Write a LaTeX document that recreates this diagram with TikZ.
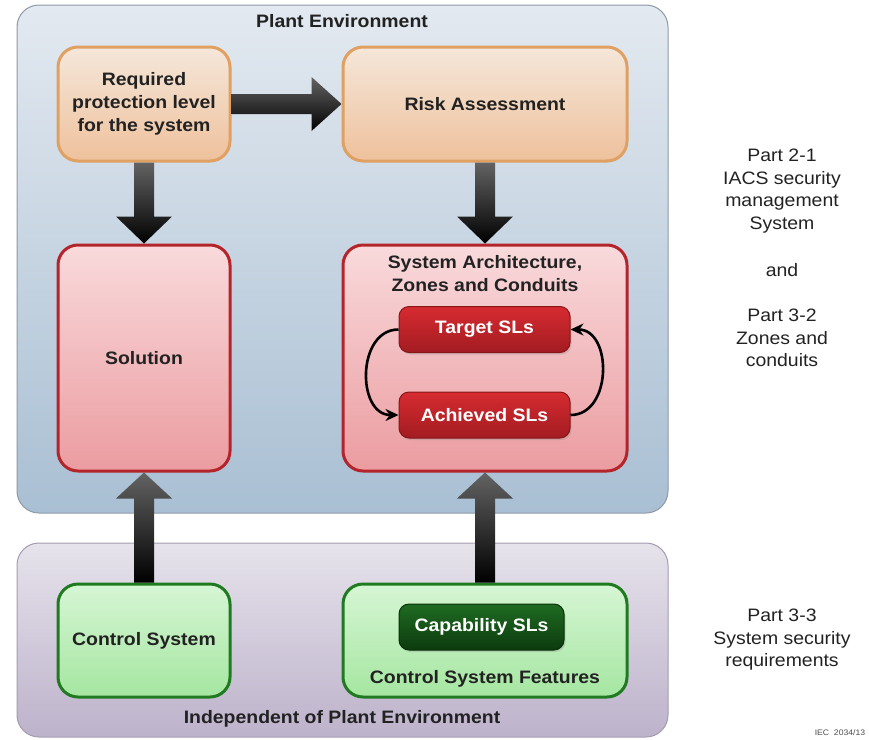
\documentclass[tikz,border=0pt]{standalone}
\usepackage{fontspec}
\setmainfont[FakeStretch=1.08]{Liberation Sans}
\usetikzlibrary{calc,shadows,arrows.meta}

\definecolor{txt}{HTML}{222222}
\definecolor{bluetop}{HTML}{E3E9F0}
\definecolor{bluebot}{HTML}{A9BFD3}
\definecolor{blueline}{HTML}{8E9AA6}
\definecolor{purptop}{HTML}{E6E3EB}
\definecolor{purpbot}{HTML}{BDB2CB}
\definecolor{purpline}{HTML}{A49CB0}
\definecolor{orgtop}{HTML}{F5E7DA}
\definecolor{orgbot}{HTML}{EEC19C}
\definecolor{orgline}{HTML}{E0A062}
\definecolor{pinktop}{HTML}{F9DADC}
\definecolor{pinkbot}{HTML}{EB9CA0}
\definecolor{redline}{HTML}{B3252B}
\definecolor{slredtop}{HTML}{D62B31}
\definecolor{slredbot}{HTML}{A21C21}
\definecolor{slredline}{HTML}{851719}
\definecolor{grntop}{HTML}{D6F6D4}
\definecolor{grnbot}{HTML}{A5E6A1}
\definecolor{grnline}{HTML}{1F7A20}
\definecolor{dgrntop}{HTML}{1F6B22}
\definecolor{dgrnbot}{HTML}{0C3B0E}
\definecolor{dgrnline}{HTML}{083008}
\definecolor{arrgray}{HTML}{636363}

\newcommand\blockdown[2]{%
  \path[arrowfill] let \p1=(#1), \p2=(#2) in
    (\x1-10pt,\y1) -- (\x1+10pt,\y1) -- (\x1+10pt,\y2+27pt) -- (\x1+28pt,\y2+27pt)
    -- (\x1,\y2) -- (\x1-28pt,\y2+27pt) -- (\x1-10pt,\y2+27pt) -- cycle;}
\newcommand\blockup[2]{%
  \path[arrowfill] let \p1=(#1), \p2=(#2) in
    (\x1-10pt,\y1) -- (\x1+10pt,\y1) -- (\x1+10pt,\y2-26pt) -- (\x1+28pt,\y2-26pt)
    -- (\x1,\y2) -- (\x1-28pt,\y2-26pt) -- (\x1-10pt,\y2-26pt) -- cycle;}
\newcommand\blockright[2]{%
  \path[arrowfill] let \p1=(#1), \p2=(#2) in
    (\x1,\y1+10pt) -- (\x1,\y1-10pt) -- (\x2-30pt,\y1-10pt) -- (\x2-30pt,\y1-27pt)
    -- (\x2,\y1) -- (\x2-30pt,\y1+27pt) -- (\x2-30pt,\y1+10pt) -- cycle;}

\begin{document}
\begin{tikzpicture}[x=1pt,y=-1pt,
  every node/.style={text=txt},
  bold/.style={font=\fontsize{18}{23}\selectfont\bfseries, align=center},
  plain/.style={font=\fontsize{18}{22.5}\selectfont, align=center},
  panel/.style={rounded corners=22pt, line width=1pt, inner sep=0pt},
  bigbox/.style={bold, rounded corners=20pt, line width=3pt, inner sep=0pt},
  orangebox/.style={bigbox, draw=orgline, top color=orgtop, bottom color=orgbot},
  pinkbox/.style={bigbox, draw=redline, top color=pinktop, bottom color=pinkbot},
  greenbox/.style={bigbox, draw=grnline, top color=grntop, bottom color=grnbot},
  slbox/.style={bold, text=white, rounded corners=10pt, line width=1pt, inner sep=0pt,
    minimum width=171pt, minimum height=46pt,
    drop shadow={opacity=0.25, shadow xshift=1.5pt, shadow yshift=-2pt}},
  redsl/.style={slbox, draw=slredline, top color=slredtop, bottom color=slredbot},
  greensl/.style={slbox, draw=dgrnline, top color=dgrntop, bottom color=dgrnbot},
  arrowfill/.style={top color=arrgray, bottom color=black},
  loop/.style={line width=2.6pt, draw=black, -{Stealth[length=13pt,width=12pt]}}
]
\useasboundingbox (0,0) rectangle (869,739);

% environment panels
\node[panel, draw=blueline, top color=bluetop, bottom color=bluebot,
      minimum width=651pt, minimum height=508pt] (plant) at (342.5,259) {};
\node[panel, draw=purpline, top color=purptop, bottom color=purpbot,
      minimum width=651pt, minimum height=194pt] (indep) at (342.5,640) {};
\node[bold] (plantlabel) at (342,21) {Plant Environment};
\node[bold] (indeplabel) at (342,719) {Independent of Plant Environment};

% boxes inside the plant environment
\node[orangebox, minimum width=172pt, minimum height=114pt] (req) at (144,104)
  {Required\\protection level\\for the system};
\node[orangebox, minimum width=284pt, minimum height=114pt] (risk) at (485,104)
  {Risk Assessment};
\node[pinkbox, minimum width=172pt, minimum height=226pt] (sol) at (144,358)
  {Solution};
\node[pinkbox, minimum width=284pt, minimum height=226pt] (arch) at (485,358) {};
\node[bold] (archlabel) at (485,274) {System Architecture,\\Zones and Conduits};
\node[redsl] (tgt) at (484.5,329.5) {Target SLs};
\node[redsl] (ach) at (484.5,415) {Achieved SLs};

% boxes independent of the plant environment
\node[greenbox, minimum width=172pt, minimum height=113pt] (cs) at (144,640.5)
  {Control System};
\node[greenbox, minimum width=284pt, minimum height=113pt] (csf) at (485,640.5) {};
\node[greensl, minimum width=165pt] (cap) at (481.5,627) {Capability SLs};
\node[bold] (csflabel) at (485,679) {Control System Features};

% block arrows
\blockright{req.east}{risk.west}
\blockdown{req.south}{sol.north}
\blockdown{risk.south}{arch.north}
\blockup{cs.north}{sol.south}
\blockup{csf.north}{arch.south}

% SL feedback loop
\draw[loop] (tgt.west) .. controls +(-42,0) and +(-42,0) .. (ach.west);
\draw[loop] (ach.east) .. controls +(42,0) and +(42,0) .. (tgt.east);

% standard parts
\node[plain] (part21) at (782,191) {Part 2-1\\IACS security\\management\\System};
\node[plain] (andlabel) at (782,270) {and};
\node[plain] (part32) at (782,338) {Part 3-2\\Zones and\\conduits};
\node[plain] (part33) at (782,640) {Part 3-3\\System security\\requirements};
\node[font=\fontsize{8}{9}\selectfont, text=black!70] (iec) at (840,733) {IEC\ \ 2034/13};
\end{tikzpicture}
\end{document}
